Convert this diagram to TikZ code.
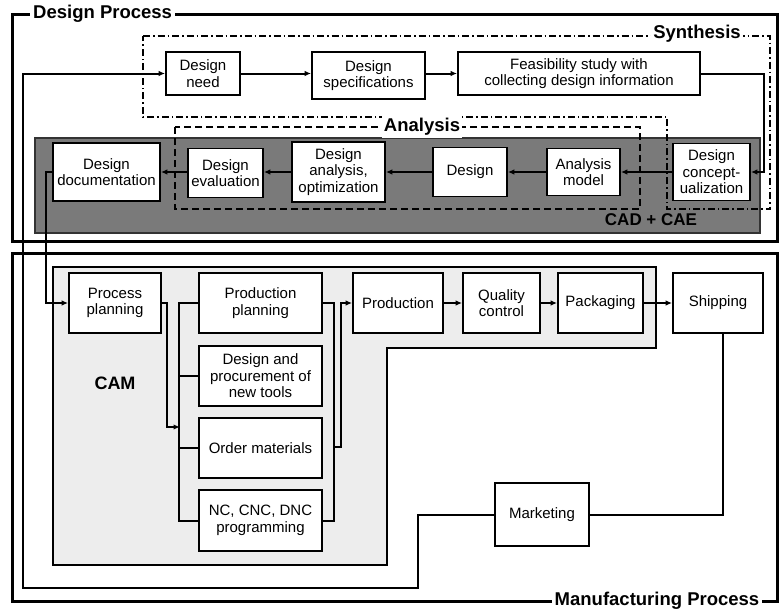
\documentclass[tikz,border=0pt]{standalone}
\usepackage{fontspec}
\setmainfont{Liberation Sans}
\usetikzlibrary{arrows.meta}
\begin{document}
\begin{tikzpicture}[x=1pt,y=-1pt,
  box/.style={draw, line width=1.8pt, fill=white, align=center, inner sep=1pt,
    font=\fontsize{15}{16.5}\selectfont},
  conn/.style={line width=2pt},
  arr/.style={conn, -{Latex[length=6.5pt,width=5.5pt]}},
  frame/.style={line width=3pt},
  title/.style={font=\fontsize{18.5}{20}\selectfont\bfseries, fill=white, inner sep=3pt},
  analysisline/.style={line width=1.5pt, dash pattern=on 7pt off 4pt},
  synthline/.style={line width=1.4pt, dash pattern=on 7pt off 3pt on 1.5pt off 3pt},
]
\useasboundingbox (0,0) rectangle (781,613);

% frames
\draw[frame] (12,14) rectangle (777,241);
\draw[frame] (12,253) rectangle (777,601);
\node[title, anchor=west] (tdesign) at (30,14) {Design Process};
\node[title] (tmanu) at (657,601) {Manufacturing Process};

% CAD + CAE band
\filldraw[fill=black!52, draw=black!80, line width=1.2pt] (35,138) rectangle (760,233);
\node[font=\fontsize{17}{18}\selectfont\bfseries, text=black] (cadcae) at (651,220) {CAD + CAE};

% CAM region
\filldraw[fill=black!7, draw=black, line width=1.4pt]
  (53,267) -- (656,267) -- (656,348) -- (387,348) -- (387,565) -- (53,565) -- cycle;
\node[font=\fontsize{18}{20}\selectfont\bfseries] (cam) at (115,383) {CAM};

% synthesis and analysis outlines
\draw[synthline] (143,36) -- (770,36) -- (770,209) -- (667,209) -- (667,117) -- (143,117) -- cycle;
\node[title, inner sep=2pt] (tsynth) at (697,34) {Synthesis};
\draw[analysisline] (175,127) rectangle (640,209);
\node[title, inner sep=2pt] (tanal) at (422,127) {Analysis};

% top row
\node[box, minimum width=74pt, minimum height=43pt] (need) at (203,73.5) {Design\\need};
\node[box, minimum width=113pt, minimum height=47pt] (specs) at (368.5,75.5) {Design\\specifications};
\node[box, minimum width=242pt, minimum height=43pt] (feas) at (579,73.5) {Feasibility study with\\collecting design information};

% band row
\node[box, minimum width=107pt, minimum height=58pt] (doc) at (106.5,172) {Design\\documentation};
\node[box, minimum width=75pt, minimum height=49pt] (eval) at (225.5,173) {Design\\evaluation};
\node[box, minimum width=93pt, minimum height=60pt] (danal) at (338.5,172) {Design\\analysis,\\optimization};
\node[box, minimum width=74pt, minimum height=49pt] (design) at (470,172) {Design};
\node[box, minimum width=73pt, minimum height=47pt] (amodel) at (583.5,172) {Analysis\\model};
\node[box, minimum width=77pt, minimum height=57pt] (concept) at (711.5,172) {Design\\concept-\\ualization};

% CAM boxes
\node[box, minimum width=92pt, minimum height=60pt] (proc) at (115,303) {Process\\planning};
\node[box, minimum width=123pt, minimum height=60pt] (prodplan) at (260.5,303) {Production\\planning};
\node[box, minimum width=123pt, minimum height=60pt] (tools) at (260.5,376) {Design and\\procurement of\\new tools};
\node[box, minimum width=123pt, minimum height=60pt] (order) at (260.5,448) {Order materials};
\node[box, minimum width=123pt, minimum height=61pt] (nc) at (260.5,520.5) {NC, CNC, DNC\\programming};
\node[box, minimum width=90pt, minimum height=60pt] (production) at (398,303) {Production};
\node[box, minimum width=77pt, minimum height=60pt] (quality) at (501.5,303) {Quality\\control};
\node[box, minimum width=85pt, minimum height=60pt] (packaging) at (600.5,303) {Packaging};
\node[box, minimum width=90pt, minimum height=60pt] (shipping) at (718,303) {Shipping};
\node[box, minimum width=94pt, minimum height=63pt] (marketing) at (542,514.5) {Marketing};

% top row connectors
\draw[arr] (need.east) -- (specs.west |- need.east);
\draw[arr] (specs.east |- feas.west) -- (feas.west);
\draw[arr] (feas.east) -- ++(63,0) |- (concept.east);

% band connectors (right to left)
\draw[arr] (concept.west) -- (amodel.east);
\draw[arr] (amodel.west) -- (design.east);
\draw[arr] (design.west) -- (danal.east);
\draw[arr] (danal.west) -- (eval.east |- danal.west);
\draw[arr] (eval.west |- doc.east) -- (doc.east);

% documentation to process planning
\draw[arr] (doc.west) -- ++(-6,0) |- (proc.west);

% left bus
\coordinate (busin) at (180,427);
\draw[conn] (prodplan.west) -- ++(-19,0) |- (nc.west);
\draw[conn] (tools.west) -- ++(-19,0);
\draw[conn] (order.west) -- ++(-19,0);
\draw[arr] (proc.east) -- ++(5,0) |- (busin);

% right bus
\coordinate (busout) at (333,447);
\draw[conn] (prodplan.east) -- ++(11,0) |- (nc.east);
\draw[arr] (busout) -- ++(8,0) |- (production.west);

% production chain
\draw[arr] (production.east) -- (quality.west);
\draw[arr] (quality.east) -- (packaging.west);
\draw[arr] (packaging.east) -- (shipping.west);

% marketing loop
\draw[conn] ([xshift=5pt]shipping.south) |- (marketing.east);
\draw[arr] (marketing.west) -| (418,588) -| (23,73.5) -- (need.west);
\end{tikzpicture}
\end{document}
